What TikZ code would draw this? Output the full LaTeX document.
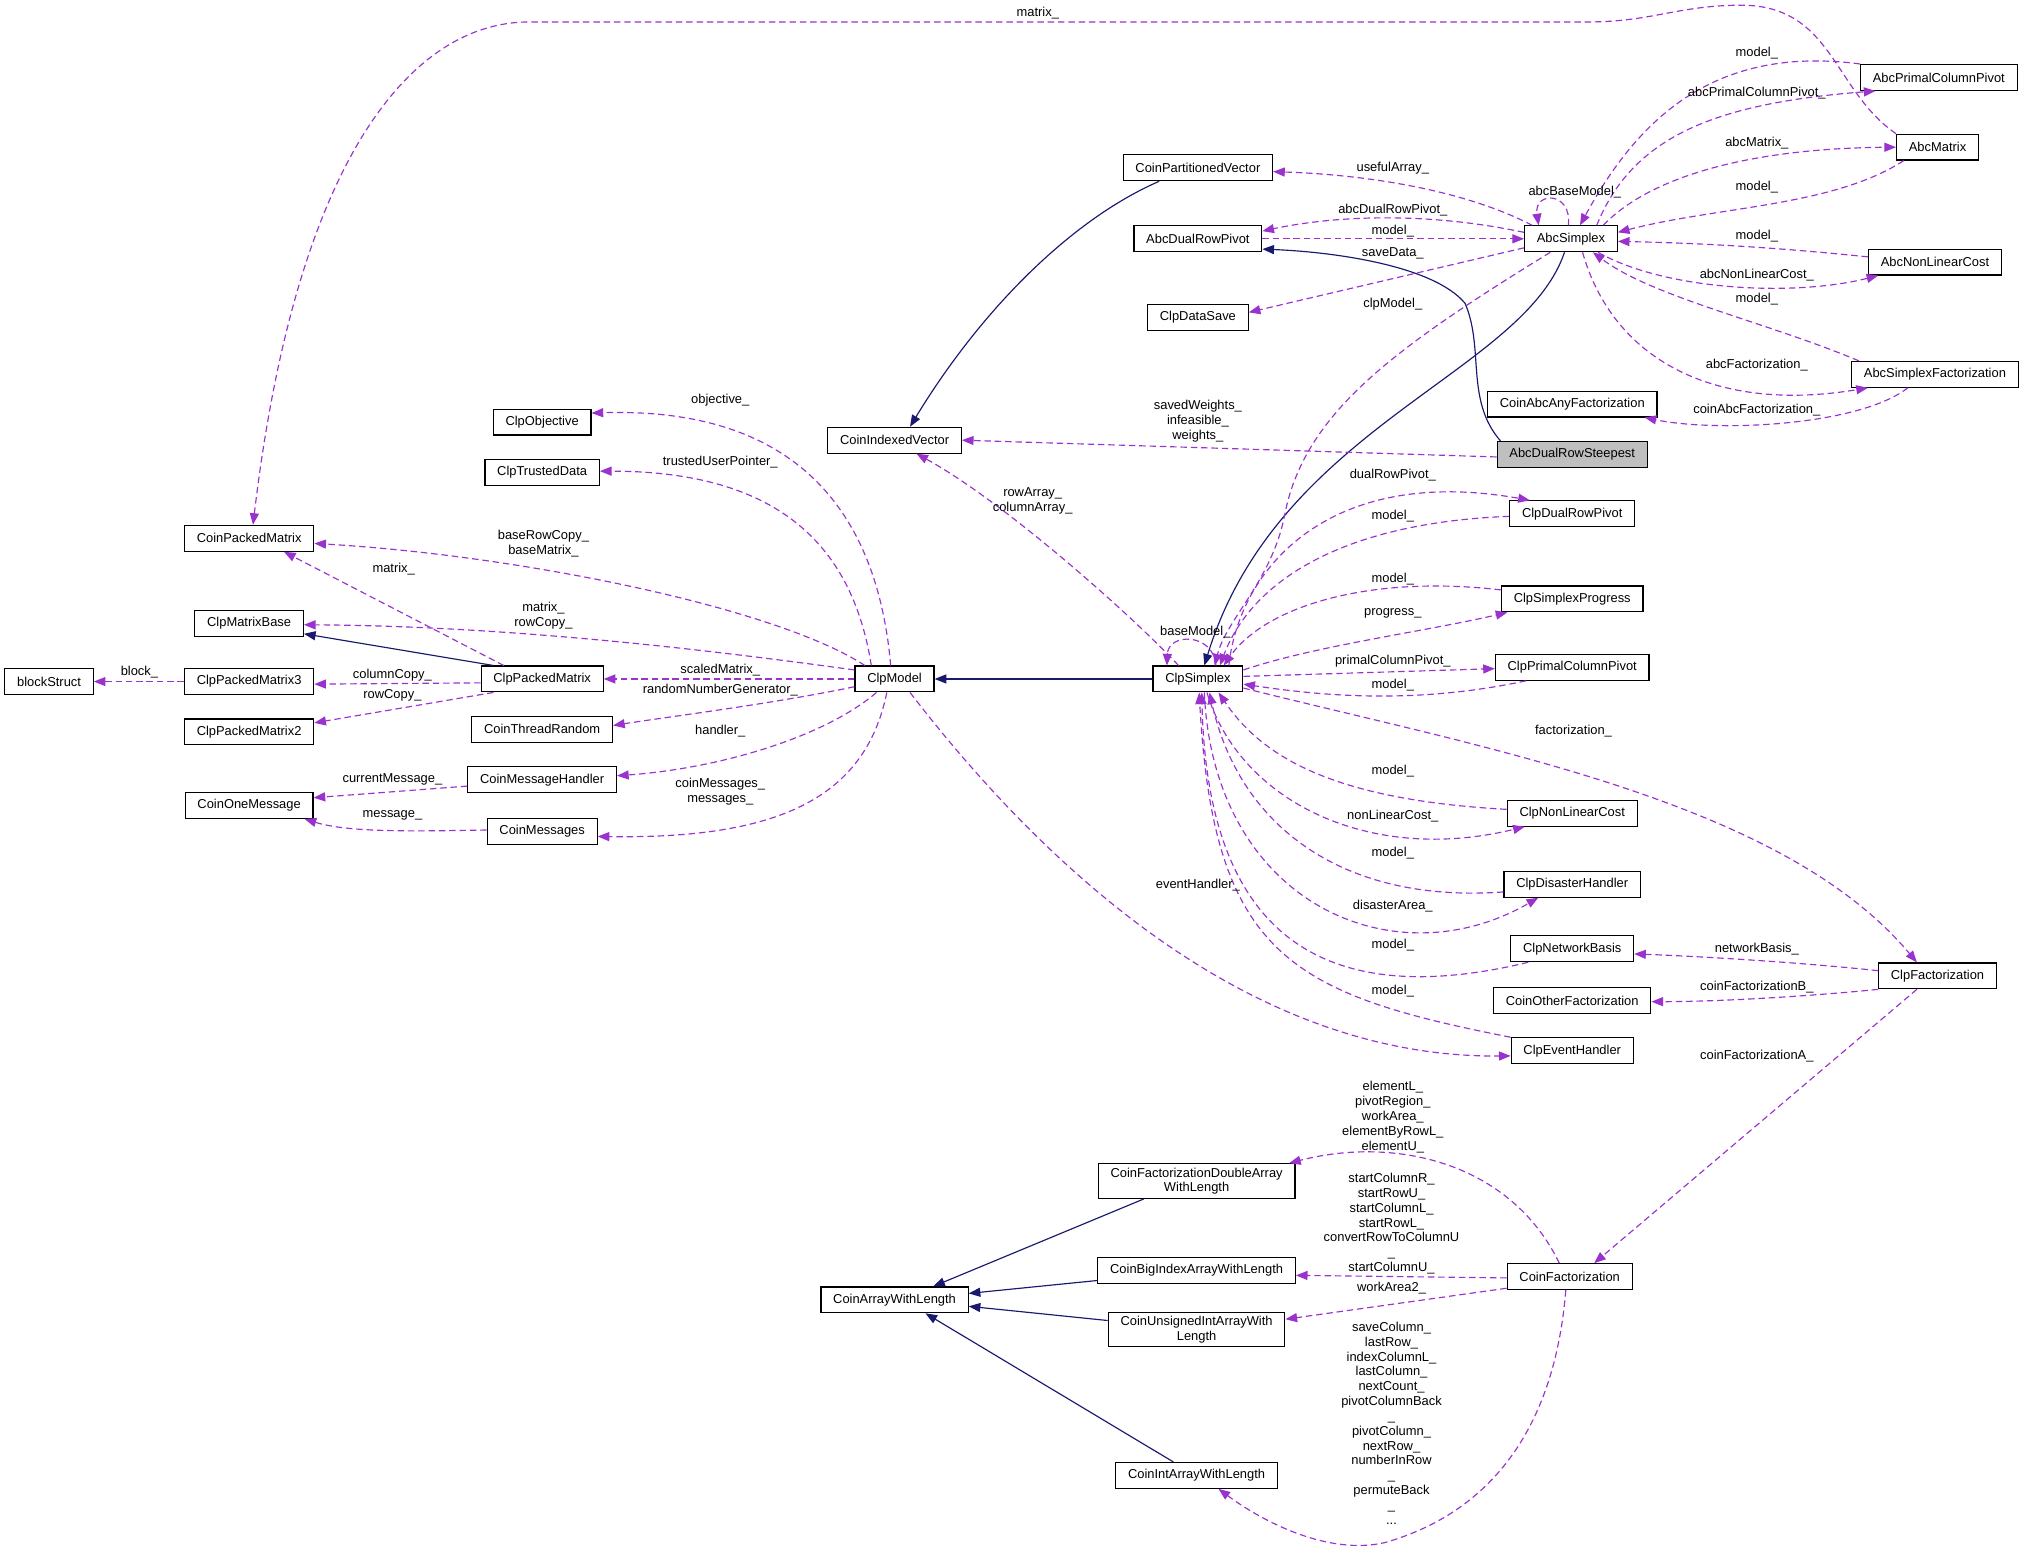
\documentclass[tikz,border=0pt]{standalone}
\usepackage{fontspec}
\setmainfont{Liberation Sans}
\usetikzlibrary{arrows.meta}

\definecolor{usecol}{HTML}{9A32CD}
\definecolor{inhcol}{HTML}{191970}
\definecolor{curfill}{HTML}{BFBFBF}

\tikzset{
  cls/.style={draw=black, line width=0.9pt, fill=white, minimum height=20pt,
    inner xsep=9.5pt, inner ysep=3pt, align=center,
    font=\fontsize{10}{11.5}\selectfont},
  curcls/.style={cls, fill=curfill},
  lbl/.style={inner sep=0pt, align=center, font=\fontsize{10}{11.5}\selectfont},
  uses/.style={draw=usecol, line width=0.9pt, dash pattern=on 5pt off 3pt,
    -{Triangle[length=9pt,width=7pt]}},
  isa/.style={draw=inhcol, line width=0.9pt, -{Triangle[length=9pt,width=7pt]}},
}

\begin{document}
\begin{tikzpicture}[x=1pt,y=-1pt]
  \useasboundingbox (0,0) rectangle (1568,1202);

  % classes, left part
  \node[cls] (blockStruct) at (38,528) {blockStruct};
  \node[cls] (ClpPackedMatrix3) at (193,528) {ClpPackedMatrix3};
  \node[cls] (ClpPackedMatrix2) at (193,567) {ClpPackedMatrix2};
  \node[cls] (ClpMatrixBase) at (193,483) {ClpMatrixBase};
  \node[cls] (CoinPackedMatrix) at (193,417) {CoinPackedMatrix};
  \node[cls] (CoinOneMessage) at (193,624) {CoinOneMessage};
  \node[cls] (ClpObjective) at (420,327) {ClpObjective};
  \node[cls] (ClpTrustedData) at (420,366) {ClpTrustedData};
  \node[cls] (ClpPackedMatrix) at (420,526) {ClpPackedMatrix};
  \node[cls] (CoinThreadRandom) at (420,565) {CoinThreadRandom};
  \node[cls] (CoinMessageHandler) at (420,604) {CoinMessageHandler};
  \node[cls] (CoinMessages) at (420,644) {CoinMessages};
  \node[cls] (ClpModel) at (693,526) {ClpModel};
  \node[cls] (CoinIndexedVector) at (693,341) {CoinIndexedVector};

  % classes, middle part
  \node[cls] (CoinPartitionedVector) at (928,130) {CoinPartitionedVector};
  \node[cls] (AbcDualRowPivot) at (928,185) {AbcDualRowPivot};
  \node[cls] (ClpDataSave) at (928,246) {ClpDataSave};
  \node[cls] (ClpSimplex) at (928,526) {ClpSimplex};
  \node[cls] (CoinFactorizationDoubleArrayWithLength) at (927,915) {CoinFactorizationDoubleArray\\WithLength};
  \node[cls] (CoinBigIndexArrayWithLength) at (927,984) {CoinBigIndexArrayWithLength};
  \node[cls] (CoinUnsignedIntArrayWithLength) at (927,1030) {CoinUnsignedIntArrayWith\\Length};
  \node[cls] (CoinArrayWithLength) at (693,1007) {CoinArrayWithLength};
  \node[cls] (CoinIntArrayWithLength) at (927,1143) {CoinIntArrayWithLength};

  % classes, right part
  \node[cls] (AbcSimplex) at (1217,185) {AbcSimplex};
  \node[cls] (CoinAbcAnyFactorization) at (1218,313) {CoinAbcAnyFactorization};
  \node[curcls] (AbcDualRowSteepest) at (1218,352) {AbcDualRowSteepest};
  \node[cls] (ClpDualRowPivot) at (1218,398) {ClpDualRowPivot};
  \node[cls] (ClpSimplexProgress) at (1218,464) {ClpSimplexProgress};
  \node[cls] (ClpPrimalColumnPivot) at (1218,517) {ClpPrimalColumnPivot};
  \node[cls] (ClpNonLinearCost) at (1218,630) {ClpNonLinearCost};
  \node[cls] (ClpDisasterHandler) at (1218,685) {ClpDisasterHandler};
  \node[cls] (ClpNetworkBasis) at (1218,735) {ClpNetworkBasis};
  \node[cls] (CoinOtherFactorization) at (1218,775) {CoinOtherFactorization};
  \node[cls] (ClpEventHandler) at (1218,814) {ClpEventHandler};
  \node[cls] (CoinFactorization) at (1216,989) {CoinFactorization};
  \node[cls] (AbcPrimalColumnPivot) at (1502,60) {AbcPrimalColumnPivot};
  \node[cls] (AbcMatrix) at (1501,114) {AbcMatrix};
  \node[cls] (AbcNonLinearCost) at (1499,203) {AbcNonLinearCost};
  \node[cls] (AbcSimplexFactorization) at (1499,290) {AbcSimplexFactorization};
  \node[cls] (ClpFactorization) at (1501,756) {ClpFactorization};

  % inheritance
  \draw[isa] (ClpSimplex.west) -- (ClpModel.east);
  \draw[isa] ([xshift=-5pt]AbcSimplex.south) .. controls (1180,290) and (990,330) .. ([xshift=5pt]ClpSimplex.north);
  \draw[isa] ([xshift=-30pt]CoinPartitionedVector.south) .. controls (830,170) and (760,240) .. ([xshift=12pt]CoinIndexedVector.north);
  \draw[isa] ([xshift=3pt]AbcDualRowSteepest.north west) .. controls (1135,310) and (1150,270) .. (1135,235)
    .. controls (1110,205) and (1030,195) .. ([yshift=-8pt]AbcDualRowPivot.east);
  \draw[isa] ([xshift=10pt]ClpPackedMatrix.north west) -- ([yshift=-8pt]ClpMatrixBase.east);
  \draw[isa] ([xshift=-41pt]CoinFactorizationDoubleArrayWithLength.south) -- ([xshift=30pt]CoinArrayWithLength.north);
  \draw[isa] ([yshift=-8pt]CoinBigIndexArrayWithLength.west) -- ([yshift=5pt]CoinArrayWithLength.east);
  \draw[isa] ([yshift=7pt]CoinUnsignedIntArrayWithLength.west) -- ([yshift=-5pt]CoinArrayWithLength.east);
  \draw[isa] ([xshift=-18pt]CoinIntArrayWithLength.north) -- ([xshift=24pt]CoinArrayWithLength.south);

  % usage, Abc side
  \draw[uses] (AbcMatrix.north west) .. controls (1420,70) and (1420,5) .. (1350,4)
    .. controls (1300,4) and (1280,17) .. (1230,17) -- (410,17)
    .. controls (320,17) and (230,120) .. ([xshift=3pt]CoinPackedMatrix.north);
  \draw[uses] (AbcPrimalColumnPivot.north west) .. controls (1330,35) and (1270,90) .. ([xshift=7pt]AbcSimplex.north);
  \draw[uses] ([xshift=20pt]AbcSimplex.north) .. controls (1265,105) and (1330,80) .. ([xshift=12pt]AbcPrimalColumnPivot.south west);
  \draw[uses] ([xshift=25pt]AbcSimplex.north) .. controls (1280,135) and (1360,115) .. (AbcMatrix.west);
  \draw[uses] ([xshift=6pt]AbcMatrix.south west) .. controls (1420,160) and (1330,160) .. ([yshift=5pt]AbcSimplex.east);
  \draw[uses] ([xshift=-2pt]AbcSimplex.north) .. controls (1218,148) and (1188,148) .. ([xshift=-25pt]AbcSimplex.north);
  \draw[uses] ([yshift=4pt]AbcNonLinearCost.west) .. controls (1360,190) and (1300,188) .. ([yshift=-2pt]AbcSimplex.east);
  \draw[uses] ([xshift=21pt]AbcSimplex.south) .. controls (1290,225) and (1390,230) .. ([xshift=8pt]AbcNonLinearCost.south west);
  \draw[uses] ([xshift=6pt]AbcSimplexFactorization.north west) .. controls (1370,250) and (1280,230) .. ([xshift=17pt]AbcSimplex.south);
  \draw[uses] ([xshift=9pt]AbcSimplex.south) .. controls (1250,280) and (1330,320) .. ([xshift=13pt]AbcSimplexFactorization.south west);
  \draw[uses] ([xshift=-21pt]AbcSimplexFactorization.south) .. controls (1440,330) and (1330,335) .. ([xshift=-10pt]CoinAbcAnyFactorization.south east);
  \draw[uses] ([xshift=-30pt]AbcSimplex.north) .. controls (1130,145) and (1050,135) .. ([yshift=-3pt]CoinPartitionedVector.east);
  \draw[uses] ([yshift=5pt]AbcSimplex.west) .. controls (1100,163) and (1030,168) .. ([yshift=6pt]AbcDualRowPivot.east);
  \draw[uses] (AbcDualRowPivot.east) -- (AbcSimplex.west);
  \draw[uses] ([yshift=-7pt]AbcSimplex.west) -- ([yshift=4pt]ClpDataSave.east);
  \draw[uses] ([xshift=-16pt]AbcSimplex.south) .. controls (1080,270) and (1010,320) .. (995,400)
    .. controls (985,450) and (950,480) .. ([xshift=13pt]ClpSimplex.north);
  \draw[uses] ([yshift=-2pt]AbcDualRowSteepest.west) -- (CoinIndexedVector.east);

  % usage, ClpSimplex side
  \draw[uses] ([xshift=-15pt]ClpSimplex.north) .. controls (880,480) and (780,390) .. ([xshift=17pt]CoinIndexedVector.south);
  \draw[uses] ([xshift=14pt]ClpSimplex.north) .. controls (940,490) and (905,490) .. ([xshift=-24pt]ClpSimplex.north);
  \draw[uses] ([xshift=24pt]ClpSimplex.north) .. controls (960,440) and (1030,360) .. ([xshift=16pt]ClpDualRowPivot.north west);
  \draw[uses] ([yshift=-2pt]ClpDualRowPivot.west) .. controls (1040,405) and (970,450) .. ([xshift=17pt]ClpSimplex.north);
  \draw[uses] ([yshift=7pt]ClpSimplexProgress.west) .. controls (1060,445) and (980,470) .. ([xshift=20pt]ClpSimplex.north);
  \draw[uses] ([yshift=7pt]ClpSimplex.east) .. controls (1020,500) and (1100,490) .. ([xshift=5pt]ClpSimplexProgress.south west);
  \draw[uses] ([yshift=2pt]ClpSimplex.east) -- ([yshift=-1pt]ClpPrimalColumnPivot.west);
  \draw[uses] ([xshift=24pt]ClpPrimalColumnPivot.south west) .. controls (1100,545) and (1030,540) .. ([yshift=-4pt]ClpSimplex.east);
  \draw[uses] ([yshift=-7pt]ClpSimplex.east) .. controls (1150,580) and (1380,620) .. ([xshift=-16pt]ClpFactorization.north);
  \draw[uses] ([yshift=3pt]ClpNonLinearCost.west) .. controls (1040,620) and (980,590) .. ([xshift=16pt]ClpSimplex.south);
  \draw[uses] ([xshift=7pt]ClpSimplex.south) .. controls (960,620) and (1060,670) .. ([xshift=14pt]ClpNonLinearCost.south west);
  \draw[uses] ([yshift=-6pt]ClpDisasterHandler.west) .. controls (1040,700) and (960,640) .. ([xshift=9pt]ClpSimplex.south);
  \draw[uses] ([xshift=5pt]ClpSimplex.south) .. controls (940,700) and (1080,760) .. ([xshift=27pt]ClpDisasterHandler.south west);
  \draw[uses] ([xshift=14pt]ClpNetworkBasis.south west) .. controls (1020,785) and (935,720) .. ([xshift=3pt]ClpSimplex.south);
  \draw[uses] (ClpEventHandler.north west) .. controls (1000,770) and (940,740) .. ([xshift=1pt]ClpSimplex.south);
  \draw[uses] ([yshift=4pt]ClpFactorization.west) .. controls (1400,746) and (1320,741) .. ([yshift=-4pt]ClpNetworkBasis.east);
  \draw[uses] (ClpFactorization.south west) .. controls (1400,772) and (1330,776) .. ([yshift=-1pt]CoinOtherFactorization.east);
  \draw[uses] ([xshift=-16pt]ClpFactorization.south) -- ([xshift=19pt]CoinFactorization.north);

  % usage, CoinFactorization
  \draw[uses] ([xshift=-8pt]CoinFactorization.north) .. controls (1170,900) and (1080,880) .. ([xshift=-5pt]CoinFactorizationDoubleArrayWithLength.north east);
  \draw[uses] ([yshift=-1pt]CoinFactorization.west) -- ([yshift=-4pt]CoinBigIndexArrayWithLength.east);
  \draw[uses] ([yshift=-9pt]CoinFactorization.west) -- ([yshift=8pt]CoinUnsignedIntArrayWithLength.east);
  \draw[uses] ([xshift=-3pt]CoinFactorization.south) .. controls (1205,1100) and (1160,1170) .. (1073,1195)
    .. controls (1030,1205) and (980,1180) .. ([xshift=17pt]CoinIntArrayWithLength.south);

  % usage, ClpModel side
  \draw[uses] ([xshift=12pt]ClpModel.south) .. controls (800,660) and (960,820) .. ([yshift=-4pt]ClpEventHandler.west);
  \draw[uses] ([xshift=-3pt]ClpModel.north) .. controls (680,400) and (620,315) .. ([yshift=7pt]ClpObjective.east);
  \draw[uses] ([xshift=-18pt]ClpModel.north) .. controls (660,420) and (600,365) .. ([yshift=1pt]ClpTrustedData.east);
  \draw[uses] ([xshift=-23pt]ClpModel.north) .. controls (600,470) and (400,430) .. ([yshift=-4pt]CoinPackedMatrix.east);
  \draw[uses] ([yshift=7pt]ClpModel.west) .. controls (560,505) and (400,485) .. ([yshift=-1pt]ClpMatrixBase.east);
  \draw[uses] (ClpModel.west) -- (ClpPackedMatrix.east);
  \draw[uses] ([yshift=-6pt]ClpModel.west) .. controls (600,545) and (520,555) .. ([yshift=3pt]CoinThreadRandom.east);
  \draw[uses] ([xshift=-14pt]ClpModel.south) .. controls (640,570) and (560,595) .. ([yshift=3pt]CoinMessageHandler.east);
  \draw[uses] ([xshift=-6pt]ClpModel.south) .. controls (670,620) and (600,650) .. ([yshift=-4pt]CoinMessages.east);
  \draw[uses] ([xshift=18pt]ClpPackedMatrix.north west) -- ([xshift=27pt]CoinPackedMatrix.south);
  \draw[uses] ([yshift=-3pt]ClpPackedMatrix.west) -- ([yshift=-2pt]ClpPackedMatrix3.east);
  \draw[uses] ([xshift=10pt]ClpPackedMatrix.south west) -- ([yshift=7pt]ClpPackedMatrix2.east);
  \draw[uses] (ClpPackedMatrix3.west) -- (blockStruct.east);
  \draw[uses] ([yshift=-5pt]CoinMessageHandler.west) -- ([yshift=6pt]CoinOneMessage.east);
  \draw[uses] ([yshift=1pt]CoinMessages.west) .. controls (320,644) and (270,645) .. ([xshift=-7pt]CoinOneMessage.south east);

  % edge labels
  \node[lbl] (lMatrixTop) at (804,10) {matrix\_};
  \node[lbl] (lModelApcp) at (1361,41) {model\_};
  \node[lbl] (lAbcPcp) at (1361,72) {abcPrimalColumnPivot\_};
  \node[lbl] (lAbcMatrix) at (1361,111) {abcMatrix\_};
  \node[lbl] (lModelAm) at (1361,145) {model\_};
  \node[lbl] (lAbcBase) at (1220,149) {abcBaseModel\_};
  \node[lbl] (lUseful) at (1079,130) {usefulArray\_};
  \node[lbl] (lAbcDrp) at (1079,163) {abcDualRowPivot\_};
  \node[lbl] (lModelAdrp) at (1079,179) {model\_};
  \node[lbl] (lSaveData) at (1079,196) {saveData\_};
  \node[lbl] (lClpModel) at (1079,236) {clpModel\_};
  \node[lbl] (lModelAnlc) at (1361,183) {model\_};
  \node[lbl] (lAbcNlc) at (1361,213) {abcNonLinearCost\_};
  \node[lbl] (lModelAsf) at (1361,232) {model\_};
  \node[lbl] (lAbcFact) at (1361,283) {abcFactorization\_};
  \node[lbl] (lCoinAbcFact) at (1361,318) {coinAbcFactorization\_};
  \node[lbl] (lWeights) at (928,326.5) {savedWeights\_\\infeasible\_\\weights\_};
  \node[lbl] (lDualRowPivot) at (1079,368) {dualRowPivot\_};
  \node[lbl] (lModelCdrp) at (1079,400) {model\_};
  \node[lbl] (lModelCsp) at (1079,449) {model\_};
  \node[lbl] (lProgress) at (1079,475) {progress\_};
  \node[lbl] (lBaseModel) at (926,490) {baseModel\_};
  \node[lbl] (lPrimalColPivot) at (1079,512) {primalColumnPivot\_};
  \node[lbl] (lModelCpcp) at (1079,531) {model\_};
  \node[lbl] (lFactorization) at (1219,566) {factorization\_};
  \node[lbl] (lModelCnlc) at (1079,597) {model\_};
  \node[lbl] (lNonLinearCost) at (1079,632) {nonLinearCost\_};
  \node[lbl] (lModelCdh) at (1079,661) {model\_};
  \node[lbl] (lEventHandler) at (928,686) {eventHandler\_};
  \node[lbl] (lDisasterArea) at (1079,702) {disasterArea\_};
  \node[lbl] (lModelCnb) at (1079,732) {model\_};
  \node[lbl] (lNetworkBasis) at (1361,735) {networkBasis\_};
  \node[lbl] (lCoinFactB) at (1361,765) {coinFactorizationB\_};
  \node[lbl] (lModelCeh) at (1079,768) {model\_};
  \node[lbl] (lCoinFactA) at (1361,818) {coinFactorizationA\_};
  \node[lbl] (lElementL) at (1079,865.5) {elementL\_\\pivotRegion\_\\workArea\_\\elementByRowL\_\\elementU\_};
  \node[lbl] (lStartColR) at (1078,948) {startColumnR\_\\startRowU\_\\startColumnL\_\\startRowL\_\\convertRowToColumnU\\\_\\startColumnU\_};
  \node[lbl] (lWorkArea2) at (1078,998) {workArea2\_};
  \node[lbl] (lSaveColumn) at (1078,1102.5) {saveColumn\_\\lastRow\_\\indexColumnL\_\\lastColumn\_\\nextCount\_\\pivotColumnBack\\\_\\pivotColumn\_\\nextRow\_\\numberInRow\\\_\\permuteBack\\\_\\...};
  \node[lbl] (lRowArray) at (800,388) {rowArray\_\\columnArray\_};
  \node[lbl] (lObjective) at (558,310) {objective\_};
  \node[lbl] (lTrusted) at (558,358) {trustedUserPointer\_};
  \node[lbl] (lBaseRowCopy) at (421,421) {baseRowCopy\_\\baseMatrix\_};
  \node[lbl] (lMatrixCpm) at (305,441) {matrix\_};
  \node[lbl] (lMatrixRowCopy) at (421,477) {matrix\_\\rowCopy\_};
  \node[lbl] (lBlock) at (108,521) {block\_};
  \node[lbl] (lColumnCopy) at (304,523) {columnCopy\_};
  \node[lbl] (lScaledMatrix) at (558,519) {scaledMatrix\_};
  \node[lbl] (lRowCopy) at (304,539) {rowCopy\_};
  \node[lbl] (lRandom) at (558,535) {randomNumberGenerator\_};
  \node[lbl] (lHandler) at (558,566) {handler\_};
  \node[lbl] (lCurrentMsg) at (304,604) {currentMessage\_};
  \node[lbl] (lCoinMessages) at (558,613) {coinMessages\_\\messages\_};
  \node[lbl] (lMessage) at (304,632) {message\_};
\end{tikzpicture}
\end{document}
